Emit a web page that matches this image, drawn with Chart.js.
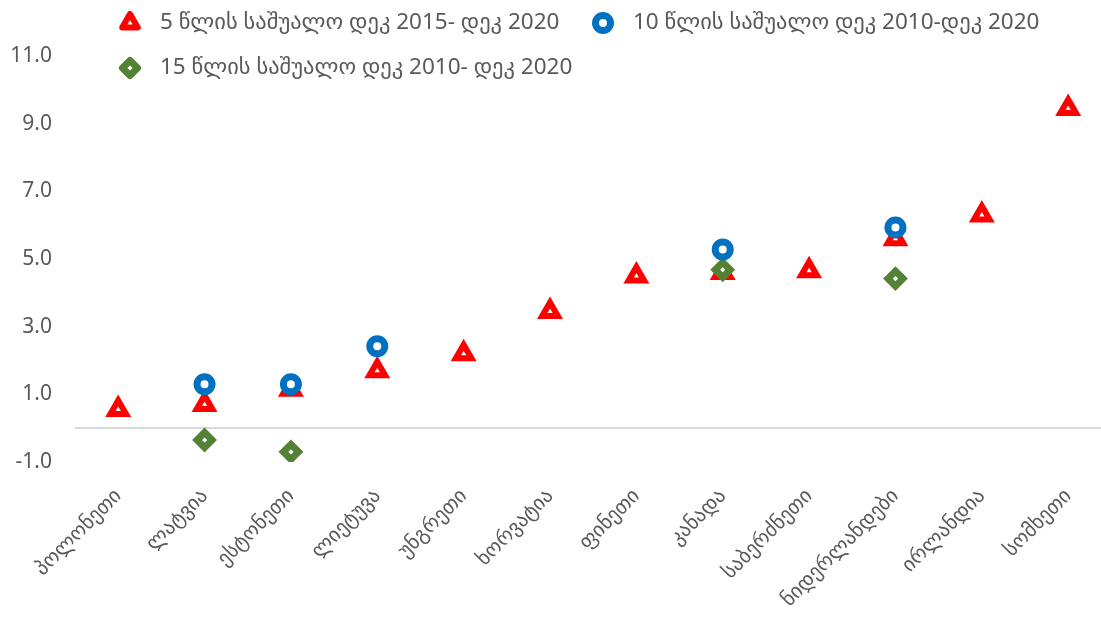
<!DOCTYPE html>
<html>
<head>
<meta charset="utf-8">
<script src="https://cdn.jsdelivr.net/npm/chart.js@4/dist/chart.umd.min.js"></script>
<style>
  html, body { margin: 0; padding: 0; background: #fff; overflow: hidden; }
  #wrap { width: 1101px; height: 622px; position: relative; }
  canvas { display: block; }
</style>
</head>
<body>
<div id="wrap"><canvas id="chart"></canvas></div>
<script>
// categories (countries)
const countries = ["პოლონეთი", "ლატვია", "ესტონეთი", "ლიეტუვა", "უნგრეთი", "ხორვატია",
  "ფინეთი", "კანადა", "საბერძნეთი", "ნიდერლანდები", "ირლანდია", "სომხეთი"];

// series values (null = no marker)
const avg5 = [0.55, 0.7, 1.15, 1.7, 2.2, 3.45, 4.5, 4.6, 4.65, 5.6, 6.3, 9.45];
const avg10 = [null, 1.3, 1.3, 2.42, null, null, null, 5.28, null, 5.93, null, null];
const avg15 = [null, -0.35, -0.7, null, null, null, null, 4.68, null, 4.42, null, null];

const seriesNames = [
  "5 წლის საშუალო დეკ 2015- დეკ 2020",
  "10 წლის საშუალო დეკ 2010-დეკ 2020",
  "15 წლის საშუალო დეკ 2010- დეკ 2020"
];

// y tick values (0 only carries the axis line)
const yTicks = [-1, 0, 1, 3, 5, 7, 9, 11];

const FONT = '"Noto Sans", "DejaVu Sans", sans-serif';
const GREY = '#595959';

const toPoints = (arr) => arr.map((v, i) => ({ x: i, y: v })).filter(p => p.y !== null);

// legend drawn by hand so it can sit where the original one does
const legendSpots = [[130, 23], [603, 23], [130, 68]];
const topLegend = {
  id: 'topLegend',
  afterDraw(chart) {
    const ctx = chart.ctx;
    chart.data.datasets.forEach((ds, i) => {
      const [x, y] = legendSpots[i];
      ctx.save();
      ctx.fillStyle = ds.pointBackgroundColor;
      ctx.strokeStyle = ds.pointBorderColor;
      ctx.lineWidth = ds.pointBorderWidth;
      ctx.lineJoin = 'round';
      Chart.helpers.drawPoint(ctx, {
        pointStyle: ds.pointStyle,
        radius: ds.pointRadius,
        borderWidth: ds.pointBorderWidth,
        rotation: 0
      }, x, y);
      ctx.font = '22.5px ' + FONT;
      ctx.fillStyle = GREY;
      ctx.textBaseline = 'middle';
      ctx.textAlign = 'left';
      ctx.fillText(ds.label, x + 30, y);
      ctx.restore();
    });
  }
};

const ctx = document.getElementById('chart').getContext('2d');
new Chart(ctx, {
  type: 'scatter',
  data: {
    datasets: [
      {
        label: seriesNames[0],
        data: toPoints(avg5),
        pointStyle: 'triangle',
        pointRadius: 9,
        pointBorderWidth: 6,
        pointBackgroundColor: '#ffffff',
        pointBorderColor: '#ff0000',
        order: 3
      },
      {
        label: seriesNames[1],
        data: toPoints(avg10),
        pointStyle: 'circle',
        pointRadius: 7.5,
        pointBorderWidth: 7,
        pointBackgroundColor: '#ffffff',
        pointBorderColor: '#0070c0',
        order: 1
      },
      {
        label: seriesNames[2],
        data: toPoints(avg15),
        pointStyle: 'rectRot',
        pointRadius: 7.5,
        pointBorderWidth: 7,
        pointBackgroundColor: '#ffffff',
        pointBorderColor: '#548235',
        order: 2
      }
    ]
  },
  options: {
    responsive: true,
    maintainAspectRatio: false,
    animation: false,
    layout: { autoPadding: false, padding: { top: 56, right: 0, bottom: 0, left: 0 } },
    plugins: {
      legend: { display: false },
      tooltip: { enabled: false }
    },
    scales: {
      x: {
        type: 'linear',
        min: -0.5,
        max: 11.38,
        afterBuildTicks: s => { s.ticks = countries.map((_, i) => ({ value: i })); },
        afterFit: s => { s.height = 160; s.paddingRight = 0; },
        ticks: {
          autoSkip: false,
          minRotation: 45,
          maxRotation: 45,
          padding: 22,
          color: GREY,
          font: { size: 20.5, family: FONT },
          callback: v => countries[v]
        },
        grid: { display: false, drawTicks: false },
        border: { display: false }
      },
      y: {
        min: -1,
        max: 11,
        afterBuildTicks: s => { s.ticks = yTicks.map(v => ({ value: v })); },
        afterFit: s => { s.width = 75; },
        ticks: {
          padding: 23,
          color: GREY,
          font: { size: 21, family: FONT },
          callback: v => v === 0 ? '' : v.toFixed(1)
        },
        grid: {
          drawTicks: false,
          lineWidth: 2,
          color: c => (c.tick && c.tick.value === 0) ? '#d9d9d9' : 'rgba(0,0,0,0)'
        },
        border: { display: false }
      }
    }
  },
  plugins: [topLegend]
});
</script>
</body>
</html>
